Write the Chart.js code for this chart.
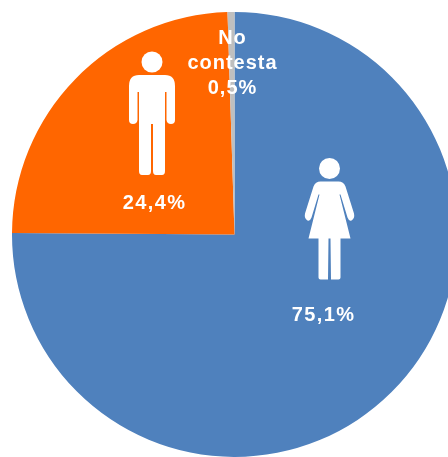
<!DOCTYPE html>
<html>
<head>
<meta charset="utf-8">
<style>
  html, body { margin: 0; padding: 0; background: #fff; overflow: hidden; }
  #frame { width: 448px; height: 457px; overflow: hidden; position: relative; }
  #box { width: 469px; height: 469px; position: absolute; left: 0; top: 0; }
</style>
<script src="https://cdn.jsdelivr.net/npm/chart.js@4"></script>
</head>
<body>
<div id="frame"><div id="box"><canvas id="pie"></canvas></div></div>
<script>
const categories = ["Mujer", "Hombre", "No contesta"];
const shares = [75.1, 24.4, 0.5];
const sliceColors = ["#4f81bd", "#ff6600", "#bfbfbf"];
const sliceLabels = [["75,1%"], ["24,4%"], ["No", "contesta", "0,5%"]];

// Caption anchors relative to the pie centre, one per slice
const labelOffsets = [
  { dx: 89, dy: 81, lead: 0, spacing: "1.4px" },
  { dx: -80, dy: -31, lead: 0, spacing: "1.4px" },
  { dx: -2, dy: -196, lead: 25, spacing: "1px" }
];

function drawWoman(ctx, x, y) {
  ctx.save();
  ctx.translate(x, y);
  ctx.fillStyle = "#fff";
  ctx.beginPath();
  ctx.arc(0, -50, 10.5, 0, Math.PI * 2);
  ctx.fill();
  const body = new Path2D(
    "M-9 -37 L9 -37 Q14 -37 16 -32 L24.5 -5 Q25.5 0 22 2 Q19.5 3 18 -1 L11 -24 L10 -24 L21 20 L11 20 L11 59 Q11 61 9 61 L1.5 61 L1 20 L-1 20 L-1.5 61 L-9 61 Q-11 61 -11 59 L-11 20 L-21 20 L-10 -24 L-11 -24 L-18 -1 Q-19.5 3 -22 2 Q-25.5 0 -24.5 -5 L-16 -32 Q-14 -37 -9 -37 Z"
  );
  ctx.fill(body);
  ctx.restore();
}

function drawMan(ctx, x, y) {
  ctx.save();
  ctx.translate(x, y);
  ctx.fillStyle = "#fff";
  ctx.beginPath();
  ctx.arc(0, -54, 10.5, 0, Math.PI * 2);
  ctx.fill();
  const body = new Path2D(
    "M-13 -41 L13 -41 Q23 -41 23 -30 L23 4 Q23 8 19 8 Q15 8 14.5 4 L14.5 -24 L13 -24 L13 55 Q13 59 10 59 L4 59 Q1 59 1 55 L1 8 L-1 8 L-1 55 Q-1 59 -4 59 L-10 59 Q-13 59 -13 55 L-13 -24 L-14.5 -24 L-14.5 4 Q-15 8 -19 8 Q-23 8 -23 4 L-23 -30 Q-23 -41 -13 -41 Z"
  );
  ctx.fill(body);
  ctx.restore();
}

// Draws the figures and the percentage captions over the slices
const overlay = {
  id: "overlay",
  afterDatasetsDraw(chart) {
    const { ctx } = chart;
    const arc = chart.getDatasetMeta(0).data[0];
    const cx = arc.x, cy = arc.y;
    drawWoman(ctx, cx + 95, cy - 16);
    drawMan(ctx, cx - 82.5, cy - 118.5);
    ctx.save();
    ctx.fillStyle = "#ffffff";
    ctx.textAlign = "center";
    ctx.textBaseline = "middle";
    ctx.font = "bold 20px 'Liberation Sans'";
    sliceLabels.forEach((lines, i) => {
      const o = labelOffsets[i];
      ctx.letterSpacing = o.spacing;
      lines.forEach((text, k) => {
        ctx.fillText(text, cx + o.dx, cy + o.dy + k * o.lead);
      });
    });
    ctx.restore();
  }
};

new Chart(document.getElementById("pie"), {
  type: "pie",
  data: {
    labels: categories,
    datasets: [{ data: shares, backgroundColor: sliceColors, borderWidth: 0 }]
  },
  options: {
    responsive: true,
    maintainAspectRatio: false,
    animation: false,
    layout: { padding: 12 },
    plugins: { legend: { display: false }, tooltip: { enabled: false } }
  },
  plugins: [overlay]
});
</script>
</body>
</html>
